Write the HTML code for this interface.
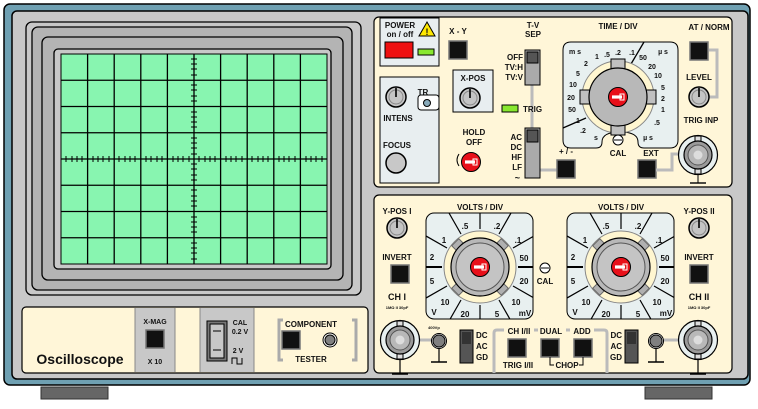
<!DOCTYPE html>
<html><head><meta charset="utf-8"><style>
html,body{margin:0;padding:0;background:#fff;}
svg{display:block;}
text{font-family:"Liberation Sans",sans-serif;font-weight:bold;fill:#111;}
</style></head><body>
<svg width="758" height="409" viewBox="0 0 758 409" xmlns="http://www.w3.org/2000/svg">
<defs>
<g id="knob"><circle r="10" fill="#c4c4c4" stroke="#000" stroke-width="1.5"/><circle r="7" fill="none" stroke="#888" stroke-width="1"/><line x1="0" y1="0" x2="0" y2="-9" stroke="#000" stroke-width="1.6"/></g>
<g id="btn"><rect x="-9" y="-9" width="18" height="18" fill="#111" stroke="#777" stroke-width="1.5"/></g>
<g id="redk"><circle r="9.5" fill="#e8101a" stroke="#000" stroke-width="1"/><rect x="-6" y="-1.6" width="10" height="3.2" fill="#fff"/><rect x="2" y="-3" width="4" height="6" fill="none" stroke="#fff" stroke-width="1"/></g>
<g id="bnc"><circle r="19.5" fill="#e8f0f0" stroke="#000" stroke-width="1.2"/><rect x="-3" y="-19" width="6" height="5" fill="#ddd" stroke="#000"/><rect x="-3" y="14" width="6" height="5" fill="#ddd" stroke="#000"/><circle r="14" fill="#9a9a9a" stroke="#000" stroke-width="1.2"/><circle r="10" fill="#b8b8b8" stroke="#555"/><circle r="4.5" fill="#ddd"/></g>
<g id="jack"><circle r="7.5" fill="#fff" stroke="#000"/><circle r="6" fill="#808080" stroke="#000"/></g>
<g id="gnd"><line x1="0" y1="0" x2="0" y2="14" stroke="#000" stroke-width="1.2"/><line x1="-8" y1="14" x2="8" y2="14" stroke="#000" stroke-width="1.5"/></g>
<clipPath id="cl1"><rect x="426" y="213" width="107" height="106" rx="8"/></clipPath>
<g id="vdial">
<circle r="36" fill="#fff6d0" stroke="#888" stroke-width="1"/>
<g fill="#b0b0b0" stroke="#666"><rect x="-5" y="-35" width="10" height="8" transform="rotate(-45)"/><rect x="-5" y="-35" width="10" height="8" transform="rotate(45)"/><rect x="-5" y="-35" width="10" height="8" transform="rotate(135)"/><rect x="-5" y="-35" width="10" height="8" transform="rotate(225)"/></g>
<circle r="29" fill="#b8b8b8" stroke="#000" stroke-width="1.2"/>
<circle r="24" fill="#c4c4c4" stroke="#555" stroke-width="1"/>
<use href="#redk"/>
</g>
</defs>
<rect x="4" y="4" width="746" height="381" rx="6" fill="#6fa0b2" stroke="#000" stroke-width="1.5"/>
<rect x="12" y="11" width="736" height="368" rx="5" fill="#c8c8c8" stroke="#000" stroke-width="1.5"/>
<rect x="41" y="387" width="67" height="12" fill="#666" stroke="#333"/>
<rect x="645" y="387" width="67" height="12" fill="#666" stroke="#333"/>
<rect x="26" y="22" width="335" height="273" rx="6" fill="#c8c8c8" stroke="#000" stroke-width="1.3"/>
<rect x="32" y="27" width="320" height="263" rx="6" fill="#b4b4b4" stroke="#000" stroke-width="1.3"/>
<rect x="42" y="37" width="301" height="243" rx="6" fill="#b4b4b4" stroke="#000" stroke-width="1.3"/>
<rect x="54" y="49" width="277" height="220" rx="4" fill="#c8c8c8" stroke="#000" stroke-width="1.3"/>
<rect x="61" y="54" width="266" height="210" fill="#88f5b0" stroke="#000" stroke-width="1"/>
<g stroke="#000" stroke-width="1.3">
<line x1="87.6" y1="54" x2="87.6" y2="264"/><line x1="114.2" y1="54" x2="114.2" y2="264"/><line x1="140.8" y1="54" x2="140.8" y2="264"/><line x1="167.4" y1="54" x2="167.4" y2="264"/><line x1="194" y1="54" x2="194" y2="264"/><line x1="220.6" y1="54" x2="220.6" y2="264"/><line x1="247.2" y1="54" x2="247.2" y2="264"/><line x1="273.8" y1="54" x2="273.8" y2="264"/><line x1="300.4" y1="54" x2="300.4" y2="264"/>
<line x1="61" y1="80.25" x2="327" y2="80.25"/><line x1="61" y1="106.5" x2="327" y2="106.5"/><line x1="61" y1="132.75" x2="327" y2="132.75"/><line x1="61" y1="159" x2="327" y2="159"/><line x1="61" y1="185.25" x2="327" y2="185.25"/><line x1="61" y1="211.5" x2="327" y2="211.5"/><line x1="61" y1="237.75" x2="327" y2="237.75"/>
</g>
<g stroke="#000" stroke-width="1">
<path d="M191 59h6M191 64h6M191 69h6M191 75h6M191 85h6M191 90h6M191 96h6M191 101h6M191 112h6M191 117h6M191 122h6M191 127h6M191 138h6M191 143h6M191 148h6M191 154h6M191 164h6M191 169h6M191 175h6M191 180h6M191 190h6M191 196h6M191 201h6M191 206h6M191 217h6M191 222h6M191 227h6M191 232h6M191 243h6M191 248h6M191 253h6M191 259h6"/>
<path d="M66 156v6M72 156v6M77 156v6M82 156v6M93 156v6M98 156v6M103 156v6M109 156v6M119 156v6M125 156v6M130 156v6M135 156v6M146 156v6M151 156v6M157 156v6M162 156v6M173 156v6M178 156v6M183 156v6M189 156v6M199 156v6M205 156v6M210 156v6M215 156v6M226 156v6M231 156v6M236 156v6M242 156v6M252 156v6M258 156v6M263 156v6M268 156v6M279 156v6M284 156v6M289 156v6M295 156v6M306 156v6M311 156v6M316 156v6M322 156v6"/>
</g>
<rect x="22" y="307" width="346" height="66" rx="4" fill="#fff6d8" stroke="#000" stroke-width="1.2"/>
<rect x="135" y="308" width="40" height="64" fill="#c8c8c8"/>
<rect x="200" y="308" width="54" height="64" fill="#c8c8c8"/>
<line x1="135" y1="308" x2="135" y2="372" stroke="#888"/><line x1="175" y1="308" x2="175" y2="372" stroke="#888"/>
<line x1="200" y1="308" x2="200" y2="372" stroke="#888"/><line x1="254" y1="308" x2="254" y2="372" stroke="#888"/>
<text x="80" y="364" font-size="14" text-anchor="middle">Oscilloscope</text>
<text x="155" y="324" font-size="7" text-anchor="middle">X-MAG</text>
<use href="#btn" x="155" y="339"/>
<text x="155" y="364" font-size="7" text-anchor="middle">X 10</text>
<rect x="207" y="321" width="20" height="40" fill="#777" stroke="#000"/>
<rect x="210" y="324" width="14" height="34" fill="#c8c8c8" stroke="#000"/>
<line x1="213" y1="331" x2="221" y2="331" stroke="#000"/><line x1="213" y1="350" x2="221" y2="350" stroke="#000"/>
<text x="240" y="325" font-size="7" text-anchor="middle">CAL</text>
<text x="240" y="334" font-size="7" text-anchor="middle">0.2 V</text>
<text x="238" y="353" font-size="7" text-anchor="middle">2 V</text>
<path d="M232 364v-6h5v6h5v-6" fill="none" stroke="#000"/>
<path d="M283 320h-4v40h4M352 320h4v40h-4" fill="none" stroke="#aaa" stroke-width="3"/>
<text x="311" y="327" font-size="8" text-anchor="middle">COMPONENT</text>
<text x="311" y="362" font-size="8" text-anchor="middle">TESTER</text>
<use href="#btn" x="291" y="340"/>
<circle cx="330" cy="340" r="7" fill="#fff" stroke="#000"/><circle cx="330" cy="340" r="5" fill="#808080" stroke="#000"/>
<rect x="374" y="17" width="358" height="170" rx="5" fill="#fff6d8" stroke="#000" stroke-width="1.2"/>
<rect x="380" y="18" width="59" height="48" fill="#e8eef0" stroke="#000"/>
<text x="400" y="28" font-size="8" text-anchor="middle">POWER</text>
<text x="400" y="37" font-size="8" text-anchor="middle">on / off</text>
<path d="M427 22l8 14h-16z" fill="#ffe800" stroke="#000"/><text x="427" y="35" font-size="9" text-anchor="middle">!</text>
<rect x="385" y="42" width="28" height="16" fill="#ee1111" stroke="#000"/>
<rect x="418" y="49" width="16" height="6" fill="#88e830" stroke="#000"/>
<text x="458" y="34" font-size="8" text-anchor="middle">X - Y</text>
<use href="#btn" x="458" y="50"/>
<rect x="380" y="77" width="59" height="106" fill="#e8eef0" stroke="#000"/>
<use href="#knob" x="396" y="97"/>
<text x="423" y="95" font-size="8" text-anchor="middle">TR</text>
<rect x="418" y="95" width="21" height="15" rx="3" fill="#fff" stroke="#000"/>
<circle cx="427" cy="103" r="3.5" fill="#8ab" stroke="#000"/>
<text x="398" y="121" font-size="8" text-anchor="middle">INTENS</text>
<text x="397" y="148" font-size="8" text-anchor="middle">FOCUS</text>
<circle cx="396" cy="163" r="10" fill="#c8c8c8" stroke="#000" stroke-width="1.5"/>
<rect x="453" y="70" width="40" height="42" fill="#e8eef0" stroke="#000"/>
<text x="473" y="81" font-size="8" text-anchor="middle">X-POS</text>
<use href="#knob" x="470" y="98"/>
<text x="533" y="28" font-size="8" text-anchor="middle">T-V</text>
<text x="533" y="37" font-size="8" text-anchor="middle">SEP</text>
<line x1="532" y1="85" x2="532" y2="128" stroke="#bbb" stroke-width="3"/>
<rect x="525" y="50" width="15" height="35" fill="#aaa" stroke="#000"/>
<rect x="527" y="52" width="11" height="11" fill="#555" stroke="#000"/>
<text x="523" y="60" font-size="8" text-anchor="end">OFF</text>
<text x="523" y="70" font-size="8" text-anchor="end">TV:H</text>
<text x="523" y="80" font-size="8" text-anchor="end">TV:V</text>
<rect x="502" y="105" width="16" height="7" fill="#88e830" stroke="#000"/>
<text x="523" y="112" font-size="8">TRIG</text>
<text x="474" y="135" font-size="8" text-anchor="middle">HOLD</text>
<text x="474" y="145" font-size="8" text-anchor="middle">OFF</text>
<use href="#redk" x="471" y="162"/>
<path d="M459 154q-4 6 0 12" fill="none" stroke="#000"/>
<line x1="540" y1="170" x2="557" y2="170" stroke="#bbb" stroke-width="3"/>
<rect x="525" y="128" width="15" height="50" fill="#aaa" stroke="#000"/>
<rect x="527" y="130" width="11" height="12" fill="#555" stroke="#000"/>
<text x="522" y="140" font-size="8" text-anchor="end">AC</text>
<text x="522" y="150" font-size="8" text-anchor="end">DC</text>
<text x="522" y="160" font-size="8" text-anchor="end">HF</text>
<text x="522" y="170" font-size="8" text-anchor="end">LF</text>
<text x="520" y="181" font-size="9" text-anchor="end">~</text>
<text x="566" y="154" font-size="8" text-anchor="middle">+ / -</text>
<use href="#btn" x="566" y="169"/>
<text x="618" y="29" font-size="8" text-anchor="middle">TIME / DIV</text>
<path d="M571 42h99q8 0 8 8v90q0 8-8 8h-26q-6 0-6-6q0-10-18-10q-18 0-18 10q0 6-6 6h-25q-8 0-8-8v-90q0-8 8-8z" fill="#e8f0f0" stroke="#000"/>
<line x1="644" y1="42" x2="631" y2="64" stroke="#000" stroke-width="1.3"/>
<line x1="563" y1="128" x2="586" y2="118" stroke="#000" stroke-width="1.3"/>
<circle cx="618" cy="97" r="36" fill="#fff6d0" stroke="#888"/>
<g fill="#c0c0c0" stroke="#000"><rect x="611" y="59" width="14" height="10"/><rect x="611" y="125" width="14" height="10"/><rect x="580" y="90" width="10" height="14"/><rect x="646" y="90" width="10" height="14"/></g>
<circle cx="618" cy="97" r="29" fill="#b8b8b8" stroke="#000" stroke-width="1.2"/>
<use href="#redk" x="618" y="97"/>
<circle cx="618" cy="140" r="5" fill="#fff" stroke="#000"/><line x1="614" y1="140" x2="622" y2="140" stroke="#000"/>
<text x="618" y="156" font-size="8" text-anchor="middle">CAL</text>
<g font-size="7" text-anchor="middle">
<text x="575" y="54">m s</text><text x="586" y="66">2</text><text x="597" y="59">1</text><text x="607" y="57">.5</text><text x="618" y="55">.2</text><text x="632" y="55">.1</text><text x="643" y="60">50</text><text x="663" y="54">µ s</text>
<text x="652" y="69">20</text><text x="658" y="78">10</text><text x="663" y="90">5</text><text x="663" y="101">2</text><text x="663" y="112">1</text><text x="657" y="125">.5</text><text x="648" y="140">µ s</text>
<text x="578" y="76">5</text><text x="573" y="87">10</text><text x="571" y="100">20</text><text x="572" y="112">50</text><text x="577" y="123">.1</text><text x="583" y="133">.2</text><text x="596" y="140">s</text>
</g>
<text x="709" y="30" font-size="8" text-anchor="middle">AT / NORM</text>
<use href="#btn" x="699" y="51"/>
<path d="M709 50h8v47h-8" fill="none" stroke="#bbb" stroke-width="3"/>
<text x="699" y="80" font-size="8" text-anchor="middle">LEVEL</text>
<use href="#knob" x="699" y="97"/>
<text x="701" y="123" font-size="8" text-anchor="middle">TRIG INP</text>
<text x="651" y="156" font-size="8" text-anchor="middle">EXT</text>
<use href="#btn" x="647" y="169"/>
<path d="M656 170h16v-16h8" fill="none" stroke="#bbb" stroke-width="3"/>
<use href="#bnc" x="698" y="155"/>
<line x1="698" y1="175" x2="698" y2="183" stroke="#000"/><line x1="690" y1="183" x2="706" y2="183" stroke="#000" stroke-width="1.4"/>
<rect x="374" y="195" width="358" height="178" rx="5" fill="#fff6d8" stroke="#000" stroke-width="1.2"/>
<text x="397" y="214" font-size="8" text-anchor="middle">Y-POS I</text>
<use href="#knob" x="397" y="228"/>
<text x="397" y="260" font-size="8" text-anchor="middle">INVERT</text>
<use href="#btn" x="400" y="274"/>
<text x="397" y="300" font-size="9" text-anchor="middle">CH I</text>
<text x="397" y="309" font-size="4" text-anchor="middle">1MΩ II 30pF</text>
<text x="699" y="214" font-size="8" text-anchor="middle">Y-POS II</text>
<use href="#knob" x="699" y="228"/>
<text x="699" y="260" font-size="8" text-anchor="middle">INVERT</text>
<use href="#btn" x="699" y="274"/>
<text x="699" y="300" font-size="9" text-anchor="middle">CH II</text>
<text x="699" y="309" font-size="4" text-anchor="middle">1MΩ II 30pF</text>
<text x="480" y="210" font-size="8" text-anchor="middle">VOLTS / DIV</text>
<text x="621" y="210" font-size="8" text-anchor="middle">VOLTS / DIV</text>
<g id="vd1">
<rect x="426" y="213" width="107" height="106" rx="8" fill="#e8f0f0" stroke="#000"/>
<g clip-path="url(#cl1)" stroke="#000" stroke-width="1.2">
<line x1="480" y1="229" x2="480" y2="200"/><line x1="480" y1="305" x2="480" y2="340"/>
<line x1="442" y1="267" x2="420" y2="267" stroke-width="2"/><line x1="518" y1="267" x2="540" y2="267" stroke-width="2"/>
<line x1="461" y1="234" x2="445" y2="206"/><line x1="499" y1="234" x2="515" y2="206"/>
<line x1="461" y1="300" x2="445" y2="328"/><line x1="499" y1="300" x2="515" y2="328"/>
<line x1="447" y1="248" x2="419" y2="232"/><line x1="513" y1="248" x2="541" y2="232"/>
<line x1="447" y1="286" x2="419" y2="302"/><line x1="513" y1="286" x2="541" y2="302"/>
</g>
<use href="#vdial" x="480" y="267"/>
<g font-size="8" text-anchor="middle">
<text x="465" y="229">.5</text><text x="497" y="229">.2</text><text x="444" y="243">1</text><text x="518" y="243">.1</text><text x="432" y="260">2</text><text x="524" y="261">50</text><text x="432" y="284">5</text><text x="524" y="284">20</text><text x="445" y="305">10</text><text x="434" y="315">V</text><text x="516" y="305">10</text><text x="525" y="316">mV</text><text x="465" y="317">20</text><text x="497" y="317">5</text>
</g>
</g>
<use href="#vd1" x="141" y="0"/>
<circle cx="545" cy="268" r="5" fill="#fff" stroke="#000"/><line x1="541" y1="268" x2="549" y2="268" stroke="#000"/>
<text x="545" y="284" font-size="8" text-anchor="middle">CAL</text>
<line x1="420" y1="340" x2="432" y2="340" stroke="#bbb" stroke-width="3"/>
<use href="#bnc" x="400" y="340"/>
<use href="#gnd" x="400" y="360"/>
<use href="#jack" x="439" y="341"/><use href="#gnd" x="439" y="348"/>
<text x="428" y="329" font-size="4">400Vp</text>
<rect x="460" y="330" width="13" height="33" fill="#555" stroke="#000"/><rect x="462" y="332" width="9" height="12" fill="#333"/>
<text x="476" y="338" font-size="8">DC</text><text x="476" y="349" font-size="8">AC</text><text x="476" y="360" font-size="8">GD</text>
<line x1="678" y1="340" x2="664" y2="340" stroke="#bbb" stroke-width="3"/>
<use href="#bnc" x="698" y="340"/>
<use href="#gnd" x="698" y="360"/>
<use href="#jack" x="656" y="341"/><use href="#gnd" x="656" y="348"/>
<rect x="625" y="330" width="13" height="33" fill="#555" stroke="#000"/><rect x="627" y="332" width="9" height="12" fill="#333"/>
<text x="622" y="338" font-size="8" text-anchor="end">DC</text><text x="622" y="349" font-size="8" text-anchor="end">AC</text><text x="622" y="360" font-size="8" text-anchor="end">GD</text>
<path d="M494 373v-40q0-3 3-3h107q3 0 3 3v40" fill="none" stroke="#bbb" stroke-width="3"/>
<rect x="504" y="325" width="30" height="10" fill="#fff6d8"/><rect x="538" y="325" width="28" height="10" fill="#fff6d8"/><rect x="570" y="325" width="24" height="10" fill="#fff6d8"/>
<text x="519" y="334" font-size="8" text-anchor="middle">CH I/II</text>
<text x="551" y="334" font-size="8" text-anchor="middle">DUAL</text>
<text x="582" y="334" font-size="8" text-anchor="middle">ADD</text>
<use href="#btn" x="517" y="348"/><use href="#btn" x="550" y="348"/><use href="#btn" x="583" y="348"/>
<text x="518" y="368" font-size="8" text-anchor="middle">TRIG I/II</text>
<path d="M550 357v8h4M583 357v8h-4" fill="none" stroke="#000"/>
<text x="567" y="368" font-size="8" text-anchor="middle">CHOP</text>
</svg>
</body></html>
